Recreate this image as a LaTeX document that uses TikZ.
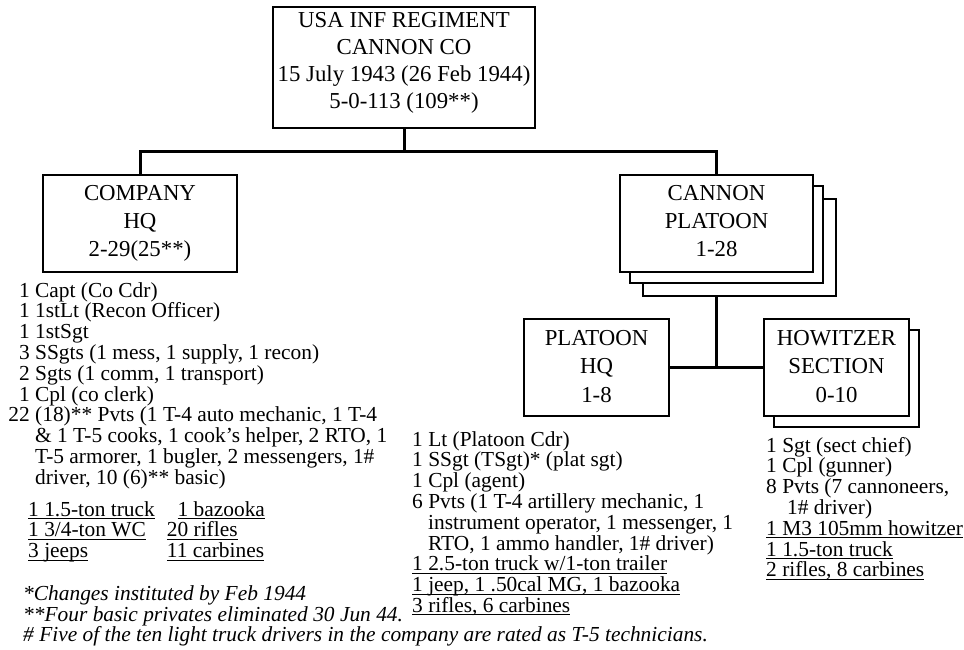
\documentclass[tikz,border=0pt]{standalone}
\usepackage{fontspec}
\setmainfont{Liberation Serif}

% stacked lines with a fixed baseline distance; the first baseline is the box baseline
\newcommand\lstack[2]{\vtop{\baselineskip=#1\lineskiplimit=-100pt\lineskip=0pt\relax #2}}
% centred stack of lines separated by \cr
\newcommand\cstack[2]{\vtop{\baselineskip=#1\lineskiplimit=-100pt\lineskip=0pt\relax
  \halign{\hfil##\hfil\cr#2\crcr}}}
% one list entry: count right-aligned in a fixed column, then the text
\newcommand\itm[2]{\hbox{\hbox to 26.75pt{\hfil#1\ }#2}}
% a continuation line indented by #1
\newcommand\cont[2]{\hbox{\hskip#1\relax #2}}
% plain line
\newcommand\row[1]{\hbox{#1}}
% underline at a fixed depth below the baseline
\newcommand\uln[1]{\setbox0=\hbox{#1}\rlap{\rule[-3pt]{\wd0}{1.1pt}}\box0}

\tikzset{
  box/.style={draw, line width=2.3pt, fill=white, inner sep=0pt},
  wire/.style={line width=3pt},
  boxtext/.style={font=\fontsize{22.8}{28}\selectfont, inner sep=0pt, anchor=base},
  listtext/.style={font=\fontsize{21.4}{20.8}\selectfont, inner sep=0pt, anchor=base west},
  notetext/.style={font=\fontsize{21.4}{18}\selectfont\itshape, inner sep=0pt, anchor=base west},
}

\begin{document}
\begin{tikzpicture}[x=1pt, y=1pt]
\useasboundingbox (0,0) rectangle (964,-650);

% ---- boxes ----
\node[box, minimum width=262pt, minimum height=121pt] (reg) at (404,-67.5) {};
\node[box, minimum width=194pt, minimum height=97pt] (chq) at (140,-223.5) {};
\node[box, minimum width=193pt, minimum height=97pt] (cpl3) at (739.5,-247.5) {};
\node[box, minimum width=193pt, minimum height=97pt] (cpl2) at (726.5,-234.5) {};
\node[box, minimum width=193pt, minimum height=97pt] (cpl) at (716.5,-223.5) {};
\node[box, minimum width=145pt, minimum height=97pt] (phq) at (596.5,-367.5) {};
\node[box, minimum width=145pt, minimum height=97pt] (how2) at (846.5,-378.5) {};
\node[box, minimum width=145pt, minimum height=97pt] (how) at (836.5,-367.5) {};

% ---- box titles ----
\node[boxtext] (regtext) at (404,-28)
  {\cstack{27pt}{USA INF REGIMENT\cr CANNON CO\cr 15 July 1943 (26 Feb 1944)\cr 5-0-113 (109**)}};
\node[boxtext] (chqtext) at (140,-200.5)
  {\cstack{28pt}{COMPANY\cr HQ\cr 2-29(25**)}};
\node[boxtext] (cpltext) at (716.5,-200.5)
  {\cstack{28pt}{CANNON\cr PLATOON\cr 1-28}};
\node[boxtext] (phqtext) at (596.5,-345)
  {\cstack{28.5pt}{PLATOON\cr HQ\cr 1-8}};
\node[boxtext] (howtext) at (836.5,-345)
  {\cstack{28.5pt}{HOWITZER\cr SECTION\cr 0-10}};

% ---- connectors ----
\coordinate (bus) at (0,-152);
\coordinate (split) at (0,-367.5);
\draw[wire] (reg.south) -- (reg.south |- bus);
\draw[wire] (chq.north) -- (chq.north |- bus) -- (cpl.north |- bus) -- (cpl.north);
\draw[wire] (cpl.south |- cpl3.south) -- (cpl.south |- split);
\draw[wire] (phq.east) -- (how.west);

% ---- company HQ personnel ----
\node[listtext] (chqlist) at (8.25,-297) {\lstack{20.8pt}{%
  \itm{1}{Capt (Co Cdr)}
  \itm{1}{1stLt (Recon Officer)}
  \itm{1}{1stSgt}
  \itm{3}{SSgts (1 mess, 1 supply, 1 recon)}
  \itm{2}{Sgts (1 comm, 1 transport)}
  \itm{1}{Cpl (co clerk)}
  \itm{22}{(18)** Pvts (1 T-4 auto mechanic, 1 T-4}
  \cont{26.75pt}{\& 1 T-5 cooks, 1 cook’s helper, 2 RTO, 1}
  \cont{26.75pt}{T-5 armorer, 1 bugler, 2 messengers, 1\#}
  \cont{26.75pt}{driver, 10 (6)** basic)}}};
\node[listtext] (chqgearA) at (28,-516) {\lstack{20.8pt}{%
  \row{\uln{1 1.5-ton truck}}
  \row{\uln{1 3/4-ton WC}}
  \row{\uln{3 jeeps}}}};
\node[listtext] (chqgearB) at (166.7,-516) {\lstack{20.8pt}{%
  \cont{10.7pt}{\uln{1 bazooka}}
  \row{\uln{20 rifles}}
  \row{\uln{11 carbines}}}};

% ---- platoon HQ personnel ----
\node[listtext] (phqlist) at (412,-446) {\lstack{20.8pt}{%
  \row{1 Lt (Platoon Cdr)}
  \row{1 SSgt (TSgt)* (plat sgt)}
  \row{1 Cpl (agent)}
  \row{6 Pvts (1 T-4 artillery mechanic, 1}
  \cont{16pt}{instrument operator, 1 messenger, 1}
  \cont{16pt}{RTO, 1 ammo handler, 1\# driver)}
  \row{\uln{1 2.5-ton truck w/1-ton trailer}}
  \row{\uln{1 jeep, 1 .50cal MG, 1 bazooka}}
  \row{\uln{3 rifles, 6 carbines}}}};

% ---- howitzer section personnel ----
\node[listtext] (howlist) at (766,-452) {\lstack{20.8pt}{%
  \row{1 Sgt (sect chief)}
  \row{1 Cpl (gunner)}
  \row{8 Pvts (7 cannoneers,}
  \cont{21pt}{1\# driver)}
  \row{\uln{1 M3 105mm howitzer}}
  \row{\uln{1 1.5-ton truck}}
  \row{\uln{2 rifles, 8 carbines}}}};

% ---- footnotes ----
\node[notetext] (noteA) at (23,-600) {*Changes instituted by Feb 1944};
\node[notetext] (noteB) at (23,-621) {**Four basic privates eliminated 30 Jun 44.};
\node[notetext] (noteC) at (23,-641.5) {\# Five of the ten light truck drivers in the company are rated as T-5 technicians.};
\end{tikzpicture}
\end{document}
